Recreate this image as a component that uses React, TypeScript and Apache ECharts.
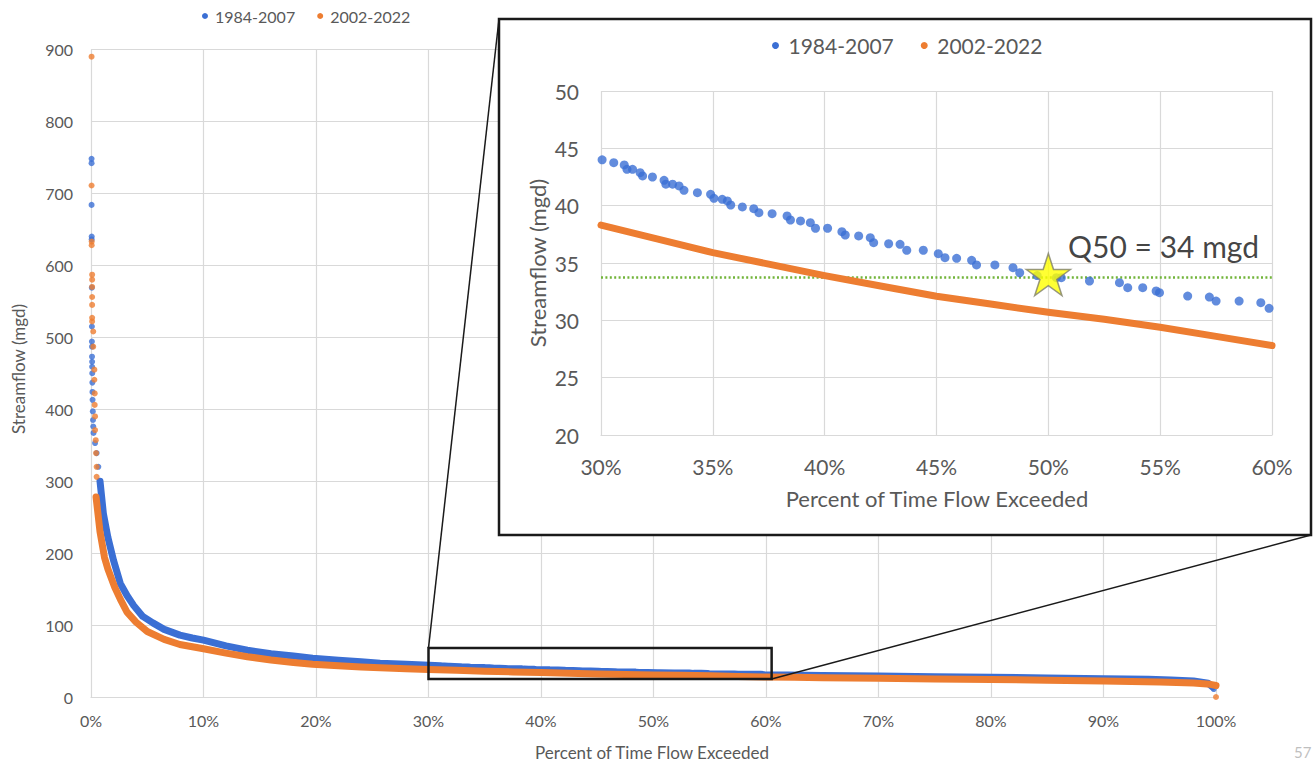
import React, { useEffect, useRef } from 'react';
import * as echarts from 'echarts';

// ---------- data (percent of time exceeded, streamflow mgd) ----------
const seriesNames = ['1984-2007', '2002-2022'];
const seriesColors = ['#3b6fd4', '#ED7D31'];

const blueOutliers: number[][] = [
  [0.05, 748], [0.05, 742], [0.05, 684], [0.06, 640], [0.06, 636], [0.07, 569], [0.08, 515],
  [0.08, 494], [0.09, 487], [0.09, 473], [0.1, 466], [0.1, 459], [0.11, 450], [0.12, 437],
  [0.13, 424], [0.14, 413], [0.16, 397], [0.18, 385], [0.2, 376], [0.22, 367], [0.36, 353],
  [0.5, 339], [0.65, 320], [99.8, 11],
];
const blueCurve: number[][] = [
  [0.8, 300], [1.1, 255], [1.5, 222], [2.0, 190], [2.6, 158], [3.2, 141], [3.8, 127], [4.6, 112],
  [5.5, 103], [6.5, 94], [7.9, 86], [9, 82], [10, 79], [12, 71], [13.9, 65], [16, 60], [18, 57],
  [19.7, 54], [22, 51], [24, 49], [25.7, 47], [28, 45.5],
];
const blueInset: number[][] = [
  [30.05, 44.0], [30.57, 43.75], [31.04, 43.55], [31.16, 43.17], [31.41, 43.17], [31.75, 42.88],
  [31.86, 42.59], [32.3, 42.5], [32.82, 42.21], [32.9, 41.87], [33.2, 41.87], [33.49, 41.72],
  [33.71, 41.34], [34.31, 41.13], [34.9, 40.99], [35.05, 40.64], [35.42, 40.55], [35.65, 40.41],
  [35.8, 40.06], [36.32, 39.89], [36.83, 39.74], [37.06, 39.39], [37.65, 39.3], [38.32, 39.1],
  [38.47, 38.75], [38.92, 38.67], [39.36, 38.52], [39.59, 38.03], [40.13, 38.03], [40.77, 37.73],
  [40.92, 37.44], [41.52, 37.36], [42.04, 37.21], [42.19, 36.77], [42.86, 36.68], [43.37, 36.63],
  [43.67, 36.11], [44.41, 36.11], [45.08, 35.81], [45.38, 35.46], [45.9, 35.41], [46.57, 35.23],
  [46.79, 34.83], [47.61, 34.83], [48.42, 34.59], [48.72, 34.15], [49.5, 33.9], [50.36, 33.72],
  [50.58, 33.72], [51.84, 33.43], [53.18, 33.28], [53.55, 32.85], [54.22, 32.85], [54.82, 32.56],
  [54.97, 32.41], [56.23, 32.12], [57.2, 32.03], [57.5, 31.68], [58.53, 31.68], [59.5, 31.54],
  [59.87, 31.05],
];
const blueTail: number[][] = [
  [62, 30.6], [65, 30], [70, 29.2], [75, 28.3], [80, 27.4], [85, 26.5], [90, 25.5], [94, 24.5],
  [96, 23.6], [98, 22.2], [99.3, 19], [99.7, 14],
];

const orangeOutliers: number[][] = [
  [0.05, 890], [0.05, 711], [0.06, 633], [0.06, 628], [0.1, 587], [0.1, 580], [0.1, 570],
  [0.1, 556], [0.1, 545], [0.1, 527], [0.1, 522], [0.2, 508], [0.2, 487], [0.3, 455], [0.3, 441],
  [0.33, 422], [0.33, 406], [0.36, 390], [0.36, 371], [0.42, 357], [0.45, 339], [0.5, 320],
  [0.5, 306], [100, 0],
];
const orangeCurve: number[][] = [
  [0.45, 278], [0.8, 230], [1.2, 194], [1.5, 178], [2.1, 153], [2.6, 136], [3.2, 118], [4.0, 104],
  [5.0, 91], [6.5, 80], [7.9, 73], [10, 67], [12, 61], [13.9, 56], [16, 51.5], [18, 48],
  [19.7, 45.5], [22, 43.3], [24, 41.7], [25.7, 40.6], [28, 39.3],
];
const orangeInset: number[][] = [
  [30, 38.3], [32.5, 37.1], [35, 35.9], [37.5, 34.9], [40, 33.9], [42.5, 33.0], [45, 32.1],
  [47.5, 31.4], [50, 30.7], [52.5, 30.1], [55, 29.4], [57.5, 28.6], [60, 27.8],
];
const orangeTail: number[][] = [
  [62.5, 27.3], [65, 26.8], [70, 26], [75, 25.1], [80, 24.3], [85, 23.4], [90, 22.4], [95, 20.9],
  [98, 19.3], [99.5, 17.6], [100, 16],
];

const q50Point: number[] = [50, 34];
const q50Line = 33.8;
const q50Label = 'Q50 = 34 mgd';
const zoomPct = [30, 60.5];
const zoomFlow = [25, 68];

const mainX = { min: 0, max: 100, interval: 10 };
const mainY = { min: 0, max: 900, interval: 100 };
const insetX = { min: 30, max: 60, interval: 5 };
const insetY = { min: 20, max: 50, interval: 5 };

const xTitle = 'Percent of Time Flow Exceeded';
const yTitle = 'Streamflow (mgd)';
const pageNumber = '57';

// ---------- styling ----------
const FONT = 'Lato';
const LABEL = '#595959';
const GRID = '#d9d9d9';
const STAR =
  'path://M50 0 L61.23 34.55 L97.55 34.55 L68.17 55.9 L79.39 90.45 L50 69.1 L20.61 90.45 L31.83 55.9 L2.45 34.55 L38.77 34.55 Z';

const INSET_BOX = { x: 499, y: 19, w: 812, h: 516 };

function axis(gridIndex: number, range: any, fs: number, margin: number, isX: boolean, z: number) {
  return {
    type: 'value',
    gridIndex,
    min: range.min,
    max: range.max,
    interval: range.interval,
    z,
    axisLine: { show: isX, lineStyle: { color: GRID, width: 1.2 } },
    axisTick: { show: false },
    splitLine: { show: true, lineStyle: { color: GRID, width: 1.2 } },
    axisLabel: {
      color: LABEL,
      fontFamily: FONT,
      fontSize: fs,
      margin,
      formatter: isX ? '{value}%' : '{value}',
    },
  };
}

export default function App() {
  const ref = useRef<HTMLDivElement>(null);

  useEffect(() => {
    if (!ref.current) return;
    const chart = echarts.init(ref.current, null, { renderer: 'svg' });
    const option: any = {
      animation: false,
      backgroundColor: '#ffffff',
      legend: [
        {
          data: seriesNames,
          left: 202,
          top: 8,
          padding: 0,
          icon: 'circle',
          itemWidth: 10,
          itemHeight: 6,
          itemGap: 22,
          selectedMode: false,
          textStyle: { color: LABEL, fontFamily: FONT, fontSize: 16 },
        },
        {
          data: seriesNames,
          left: 772,
          top: 35,
          padding: 0,
          z: 10,
          icon: 'circle',
          itemWidth: 16,
          itemHeight: 7,
          itemGap: 27,
          selectedMode: false,
          textStyle: { color: LABEL, fontFamily: FONT, fontSize: 21 },
        },
      ],
      grid: [
        { left: 91, top: 49.5, width: 1125, height: 647.5 },
        { left: 601, top: 91, width: 671, height: 344 },
      ],
      xAxis: [axis(0, mainX, 16, 15, true, 0), axis(1, insetX, 21, 21, true, 2)],
      yAxis: [axis(0, mainY, 16, 18, false, 0), axis(1, insetY, 21, 22, false, 2)],
      series: [
        {
          name: seriesNames[0],
          type: 'line',
          xAxisIndex: 0,
          yAxisIndex: 0,
          data: [...blueCurve, ...blueInset, ...blueTail],
          showSymbol: false,
          color: seriesColors[0],
          lineStyle: { width: 7, cap: 'round', join: 'round' },
          z: 2,
        },
        {
          name: seriesNames[0],
          type: 'scatter',
          xAxisIndex: 0,
          yAxisIndex: 0,
          data: blueOutliers,
          symbolSize: 6,
          color: seriesColors[0],
          z: 2,
        },
        {
          name: seriesNames[1],
          type: 'line',
          xAxisIndex: 0,
          yAxisIndex: 0,
          data: [...orangeCurve, ...orangeInset, ...orangeTail],
          showSymbol: false,
          color: seriesColors[1],
          lineStyle: { width: 7, cap: 'round', join: 'round' },
          z: 3,
        },
        {
          name: seriesNames[1],
          type: 'scatter',
          xAxisIndex: 0,
          yAxisIndex: 0,
          data: orangeOutliers,
          symbolSize: 6,
          color: seriesColors[1],
          z: 3,
        },
        {
          name: 'Q50',
          type: 'scatter',
          xAxisIndex: 1,
          yAxisIndex: 1,
          data: [],
          z: 3,
          markLine: {
            silent: true,
            z: 3,
            symbol: ['none', 'none'],
            label: { show: false },
            lineStyle: { color: '#72b43a', type: [2, 2.4], width: 2.6 },
            data: [{ yAxis: q50Line }],
          },
        },
        {
          name: seriesNames[0],
          type: 'scatter',
          xAxisIndex: 1,
          yAxisIndex: 1,
          data: blueInset,
          symbolSize: 9,
          color: seriesColors[0],
          z: 4,
        },
        {
          name: seriesNames[1],
          type: 'line',
          xAxisIndex: 1,
          yAxisIndex: 1,
          data: orangeInset,
          showSymbol: false,
          color: seriesColors[1],
          lineStyle: { width: 7, cap: 'round', join: 'round' },
          z: 4,
        },
        {
          name: 'Q50 star',
          type: 'scatter',
          xAxisIndex: 1,
          yAxisIndex: 1,
          data: [q50Point],
          symbol: STAR,
          symbolSize: [44, 42],
          itemStyle: { color: '#ffff00', borderColor: '#80806a', borderWidth: 1.5 },
          z: 6,
          label: {
            show: true,
            position: 'right',
            distance: 0,
            offset: [-3, -28],
            formatter: q50Label,
            color: '#111111',
            fontFamily: FONT,
            fontSize: 30,
          },
        },
      ],
    };
    chart.setOption(option);

    const tl = chart.convertToPixel({ gridIndex: 0 } as any, [zoomPct[0], zoomFlow[1]]) as number[];
    const br = chart.convertToPixel({ gridIndex: 0 } as any, [zoomPct[1], zoomFlow[0]]) as number[];

    chart.setOption({
      graphic: [
        {
          type: 'rect',
          z: 1,
          shape: { x: INSET_BOX.x, y: INSET_BOX.y, width: INSET_BOX.w, height: INSET_BOX.h },
          style: { fill: '#ffffff', stroke: '#1a1a1a', lineWidth: 2.5 },
        },
        {
          type: 'rect',
          z: 10,
          shape: { x: tl[0], y: tl[1], width: br[0] - tl[0], height: br[1] - tl[1] },
          style: { fill: 'none', stroke: '#1a1a1a', lineWidth: 2.5 },
        },
        {
          type: 'line',
          z: 10,
          shape: { x1: tl[0], y1: tl[1], x2: INSET_BOX.x, y2: INSET_BOX.y },
          style: { stroke: '#1a1a1a', lineWidth: 1.5 },
        },
        {
          type: 'line',
          z: 10,
          shape: { x1: br[0], y1: br[1], x2: INSET_BOX.x + INSET_BOX.w, y2: INSET_BOX.y + INSET_BOX.h },
          style: { stroke: '#1a1a1a', lineWidth: 1.5 },
        },
        {
          type: 'text',
          z: 10,
          x: 652,
          y: 752,
          style: { text: xTitle, fill: LABEL, font: `17px ${FONT}`, align: 'center', verticalAlign: 'middle' },
        },
        {
          type: 'text',
          z: 10,
          x: 18,
          y: 369,
          rotation: Math.PI / 2,
          style: { text: yTitle, fill: LABEL, font: `17px ${FONT}`, align: 'center', verticalAlign: 'middle' },
        },
        {
          type: 'text',
          z: 10,
          x: 937,
          y: 498,
          style: { text: xTitle, fill: LABEL, font: `22px ${FONT}`, align: 'center', verticalAlign: 'middle' },
        },
        {
          type: 'text',
          z: 10,
          x: 537,
          y: 263,
          rotation: Math.PI / 2,
          style: { text: yTitle, fill: LABEL, font: `22px ${FONT}`, align: 'center', verticalAlign: 'middle' },
        },
        {
          type: 'text',
          z: 10,
          x: 1294,
          y: 752,
          style: { text: pageNumber, fill: '#bfbfbf', font: `15px ${FONT}`, align: 'left', verticalAlign: 'middle' },
        },
      ],
    });

    return () => chart.dispose();
  }, []);

  return (
    <div
      ref={ref}
      style={{ position: 'absolute', left: 0, top: 0, width: 1314, height: 765, background: '#ffffff' }}
    />
  );
}
